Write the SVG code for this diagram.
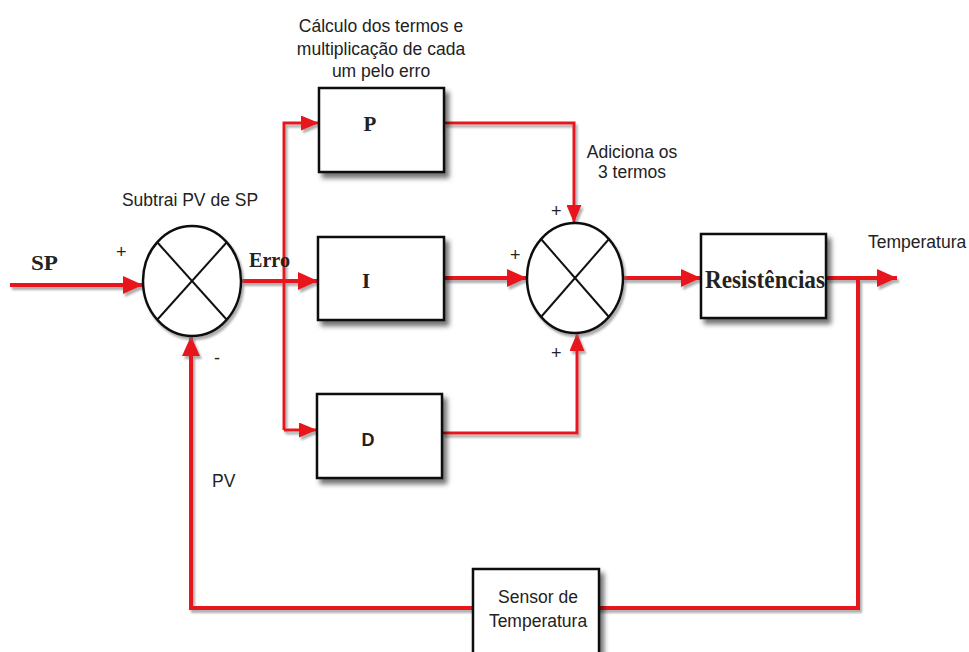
<svg xmlns="http://www.w3.org/2000/svg" width="969" height="652" viewBox="0 0 969 652">
<defs>
<filter id="sh" x="-20%" y="-20%" width="150%" height="150%"><feDropShadow dx="4" dy="5" stdDeviation="2.5" flood-color="#000" flood-opacity="0.55"/></filter>
<filter id="lsh" x="-5%" y="-5%" width="110%" height="110%"><feDropShadow dx="2" dy="3" stdDeviation="1.2" flood-color="#777" flood-opacity="0.6"/></filter>
<marker id="ah" markerWidth="5" markerHeight="4.5" refX="5" refY="2.25" orient="auto" markerUnits="strokeWidth"><path d="M0,0 L5,2.25 L0,4.5 z" fill="#e8161c"/></marker>
<marker id="ahs" markerWidth="6" markerHeight="5" refX="6" refY="2.5" orient="auto" markerUnits="strokeWidth"><path d="M0,0 L6,2.5 L0,5 z" fill="#e8161c"/></marker>
</defs>
<style>
.box{fill:#fff;stroke:#111;stroke-width:2.5}
.sum{fill:#fff;stroke:#111;stroke-width:2.5}
.x{stroke:#111;stroke-width:2}
.w{fill:none;stroke:#e8161c;stroke-width:4}
.t{fill:none;stroke:#e8161c;stroke-width:3}
.lbl{font-family:"Liberation Sans",Arial,sans-serif;font-size:17.5px;fill:#222}
.ser{font-family:"Liberation Serif","Times New Roman",serif;font-weight:bold;fill:#222}
.pm{font-family:"Liberation Sans",Arial,sans-serif;font-size:18px;fill:#222}
</style>
<rect width="969" height="652" fill="#fff"/>
<g id="connectors" filter="url(#lsh)">
<path class="w" d="M10,285 H143" marker-end="url(#ah)"/>
<path class="w" d="M241,281 H318" marker-end="url(#ah)"/>
<path class="t" d="M284,430 V123 H319" marker-end="url(#ahs)"/>
<path class="t" d="M284,430 H317" marker-end="url(#ahs)"/>
<path class="t" d="M444,123 H574 V223" marker-end="url(#ahs)"/>
<path class="w" d="M444,278 H527" marker-end="url(#ah)"/>
<path class="t" d="M442,433 H577 V333" marker-end="url(#ahs)"/>
<path class="w" d="M623,278 H701" marker-end="url(#ah)"/>
<path class="w" d="M826,278 H897" marker-end="url(#ah)"/>
<path class="w" d="M858,278 V608 H473"/>
<path class="w" d="M473,608 H191 V336" marker-end="url(#ah)"/>
</g>
<g id="sum1">
<ellipse class="sum" cx="192" cy="281" rx="49" ry="55" filter="url(#lsh)"/>
<line class="x" x1="157" y1="242" x2="227" y2="320"/>
<line class="x" x1="227" y1="242" x2="157" y2="320"/>
</g>
<g id="sum2">
<ellipse class="sum" cx="575" cy="278" rx="48" ry="55" filter="url(#lsh)"/>
<line class="x" x1="541" y1="239" x2="609" y2="317"/>
<line class="x" x1="609" y1="239" x2="541" y2="317"/>
</g>
<g id="P"><rect class="box" x="319" y="88" width="125" height="84" filter="url(#sh)"/><text class="ser" x="370" y="131" font-size="21" text-anchor="middle">P</text></g>
<g id="I"><rect class="box" x="318" y="237" width="126" height="83" filter="url(#sh)"/><text class="ser" x="366" y="288" font-size="21" text-anchor="middle">I</text></g>
<g id="D"><rect class="box" x="317" y="394" width="125" height="84" filter="url(#sh)"/><text x="368" y="446" font-family="Liberation Sans,Arial,sans-serif" font-weight="bold" font-size="18" fill="#222" text-anchor="middle">D</text></g>
<g id="Res"><rect class="box" x="701" y="234" width="125" height="84" filter="url(#sh)"/><text class="ser" x="765" y="288" font-size="25" text-anchor="middle" textLength="120" lengthAdjust="spacingAndGlyphs">Resistências</text></g>
<g id="Sensor"><rect class="box" x="473" y="569" width="126" height="90" filter="url(#sh)"/><text class="lbl" x="538" y="603" font-size="18" text-anchor="middle">Sensor de</text><text class="lbl" x="538" y="627" font-size="18" text-anchor="middle">Temperatura</text></g>
<g id="labels">
<text class="ser" x="31" y="270" font-size="22" textLength="27" lengthAdjust="spacingAndGlyphs">SP</text>
<text class="ser" x="249" y="267" font-size="22" textLength="41" lengthAdjust="spacingAndGlyphs">Erro</text>
<text class="pm" x="116" y="258">+</text>
<text class="pm" x="214" y="364">-</text>
<text class="pm" x="551" y="217">+</text>
<text class="pm" x="510" y="261">+</text>
<text class="pm" x="551" y="359">+</text>
<text class="lbl" x="190" y="206" text-anchor="middle">Subtrai PV de SP</text>
<text class="lbl" x="381" y="32" text-anchor="middle">Cálculo dos termos e</text>
<text class="lbl" x="381" y="55" text-anchor="middle">multiplicação de cada</text>
<text class="lbl" x="381" y="77" text-anchor="middle">um pelo erro</text>
<text class="lbl" x="632" y="158" text-anchor="middle">Adiciona os</text>
<text class="lbl" x="632" y="178" text-anchor="middle">3 termos</text>
<text class="lbl" x="868" y="248">Temperatura</text>
<text class="lbl" x="212" y="487" font-size="20">PV</text>
</g>
</svg>
